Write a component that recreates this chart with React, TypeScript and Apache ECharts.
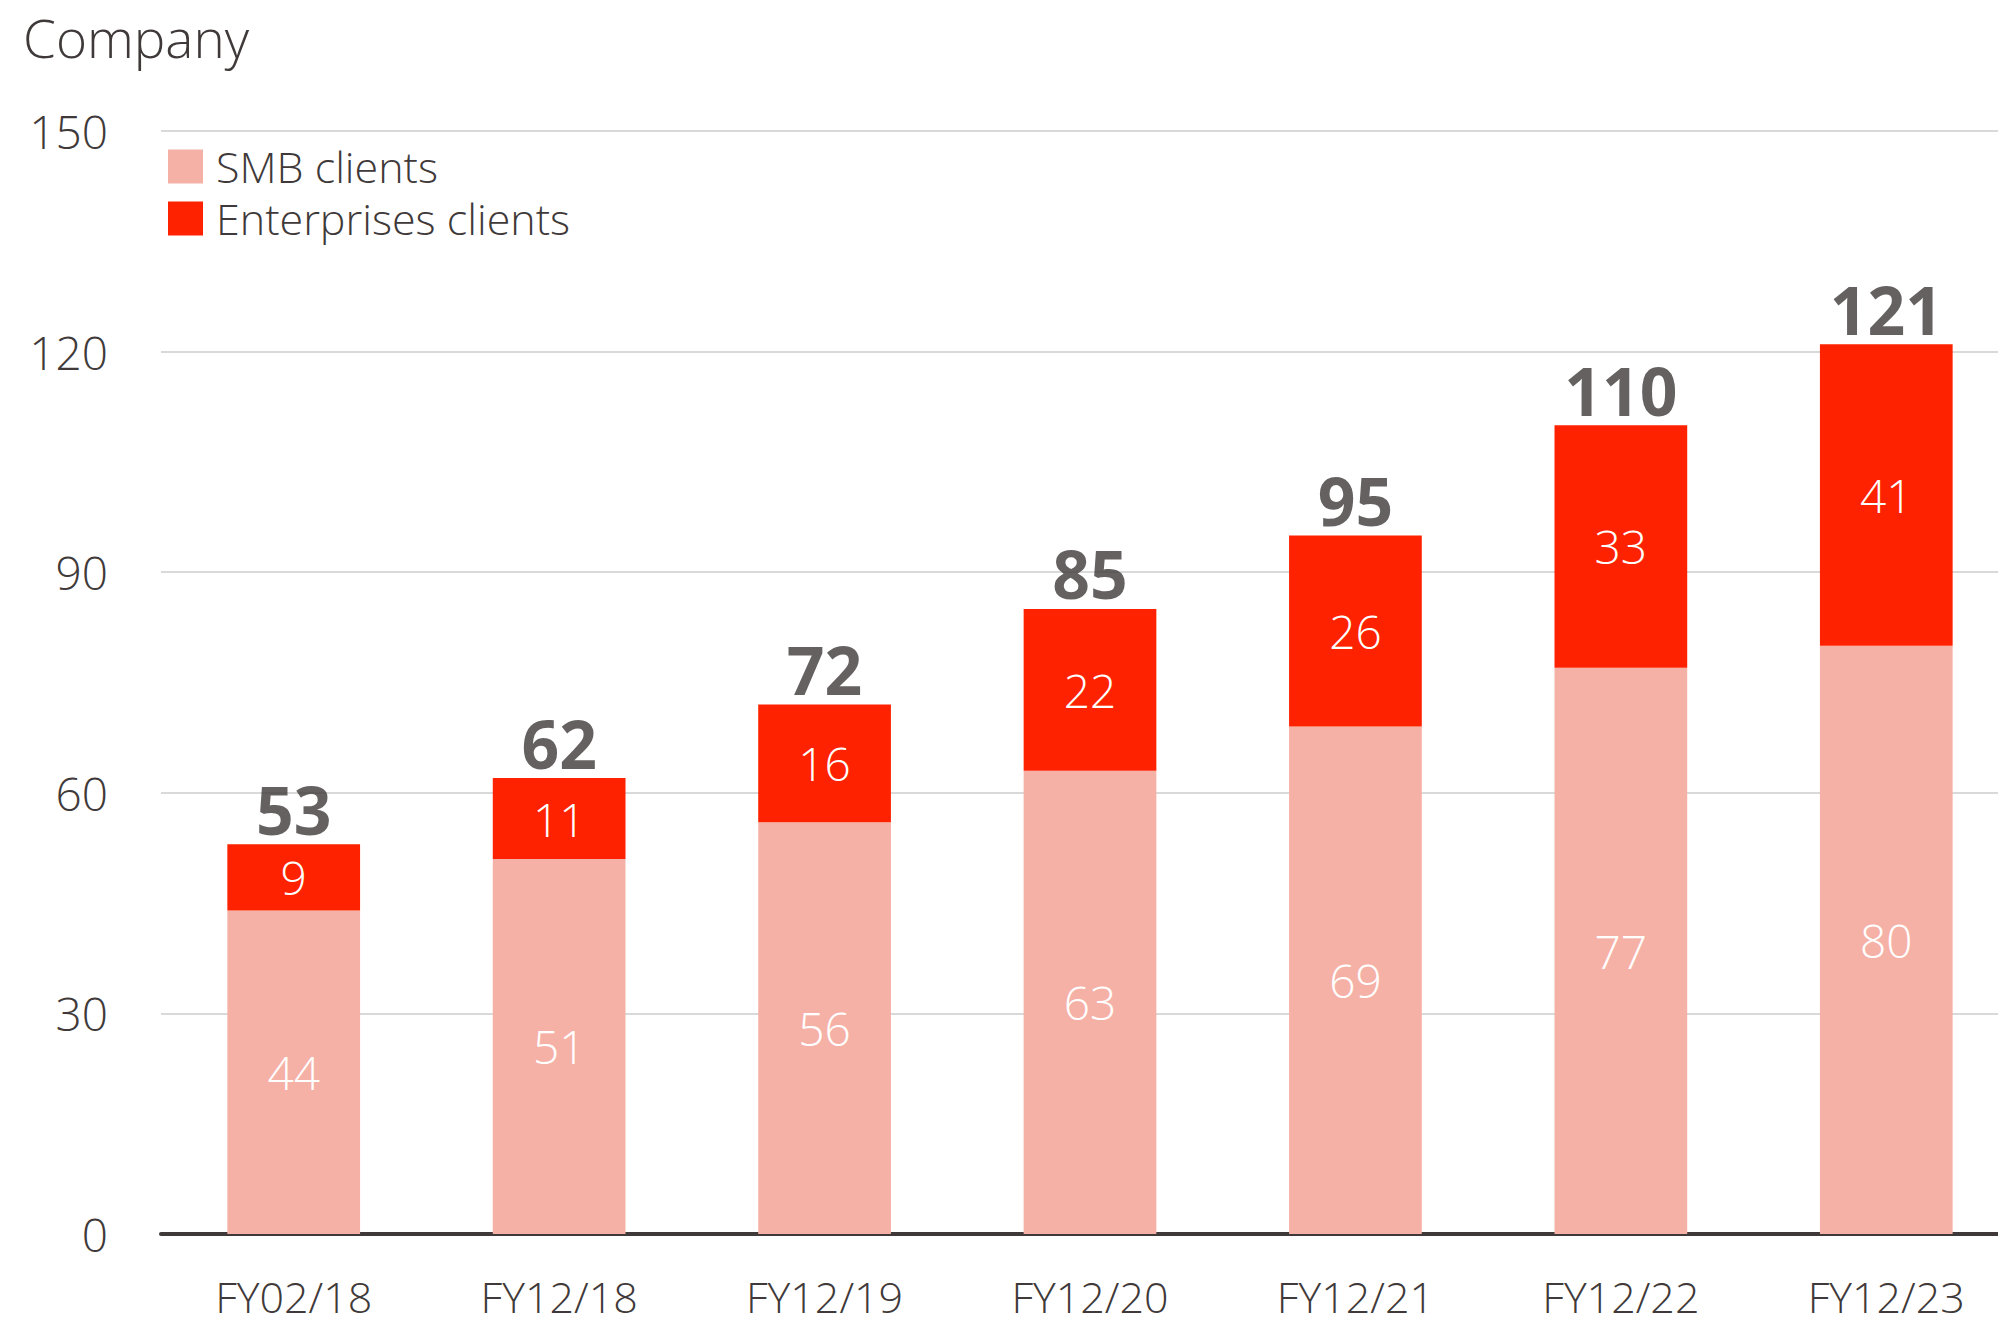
import React, { useEffect, useRef } from "react";
import * as echarts from "echarts";

const categories = ["FY02/18", "FY12/18", "FY12/19", "FY12/20", "FY12/21", "FY12/22", "FY12/23"];
const smbClients = [44, 51, 56, 63, 69, 77, 80];
const enterpriseClients = [9, 11, 16, 22, 26, 33, 41];
const totals = [53, 62, 72, 85, 95, 110, 121];
const yTicks = { min: 0, max: 150, interval: 30 };

const FONT = "Open Sans";
const TEXT = "#3F3A39";
const SMB_COLOR = "#F6B1A7";
const ENT_COLOR = "#FF2200";

export default function App() {
  const ref = useRef<HTMLDivElement>(null);
  useEffect(() => {
    if (!ref.current) return;
    const chart = echarts.init(ref.current, null, { renderer: "svg" });
    chart.setOption({
      animation: false,
      backgroundColor: "#fff",
      textStyle: { fontFamily: FONT },
      graphic: [
        {
          type: "text",
          left: 23,
          top: 7,
          style: { text: "Company", fontSize: 53, lineHeight: 60, fontFamily: FONT, fontWeight: 300, fill: TEXT },
        },
      ],
      legend: {
        orient: "vertical",
        left: 168,
        top: 145,
        padding: 0,
        itemWidth: 35,
        itemHeight: 34,
        itemGap: 9,
        icon: "rect",
        data: ["SMB clients", "Enterprises clients"],
        textStyle: { fontSize: 43, lineHeight: 43, color: TEXT, fontFamily: FONT, fontWeight: 300, padding: [0, 0, 0, 8] },
      },
      grid: { left: 161, right: 0, top: 131, bottom: 84, containLabel: false, outerBoundsMode: "none" },
      xAxis: {
        type: "category",
        data: categories,
        axisTick: { show: false },
        axisLine: { show: true, lineStyle: { color: TEXT, width: 4 } },
        axisLabel: { fontSize: 43, color: TEXT, fontFamily: FONT, fontWeight: 300, margin: 41 },
      },
      yAxis: {
        type: "value",
        min: yTicks.min,
        max: yTicks.max,
        interval: yTicks.interval,
        axisLine: { show: false },
        axisTick: { show: false },
        axisLabel: { fontSize: 46, color: TEXT, fontFamily: FONT, fontWeight: 300, margin: 53 },
        splitLine: { lineStyle: { color: "#D9D9D9", width: 2 } },
      },
      series: [
        {
          name: "SMB clients",
          type: "bar",
          stack: "total",
          data: smbClients,
          barWidth: "50%",
          itemStyle: { color: SMB_COLOR },
          label: { show: true, position: "inside", color: "#fff", fontSize: 46, fontFamily: FONT, fontWeight: 300 },
        },
        {
          name: "Enterprises clients",
          type: "bar",
          stack: "total",
          data: enterpriseClients,
          barWidth: "50%",
          itemStyle: { color: ENT_COLOR },
          label: { show: true, position: "inside", color: "#fff", fontSize: 46, fontFamily: FONT, fontWeight: 300 },
        },
        {
          name: "Total",
          type: "scatter",
          data: totals,
          symbol: "rect",
          symbolSize: 1,
          itemStyle: { color: "rgba(0,0,0,0)" },
          silent: true,
          z: 10,
          label: {
            show: true,
            position: "top",
            distance: 2,
            color: TEXT,
            fontSize: 66,
            fontWeight: "bold",
            fontFamily: FONT,
          },
        },
      ],
    });
    return () => chart.dispose();
  }, []);
  return (
    <div style={{ position: "fixed", left: 0, top: 0, width: 1998, height: 1318, overflow: "hidden" }}>
      <div ref={ref} style={{ width: 2019, height: 1318 }} />
    </div>
  );
}
